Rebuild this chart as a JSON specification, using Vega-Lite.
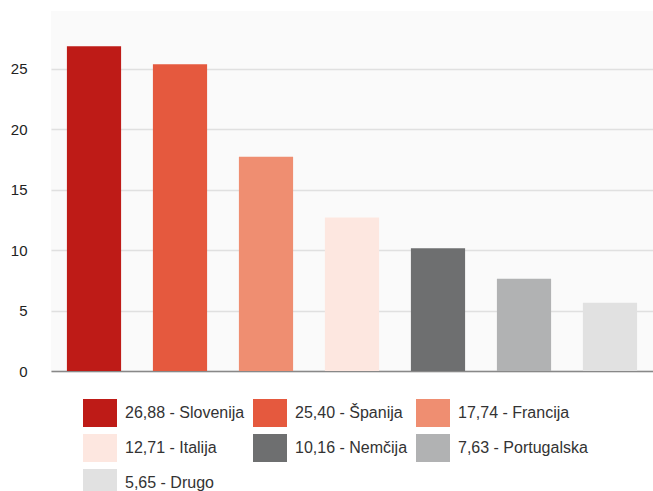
{
  "$schema": "https://vega.github.io/schema/vega-lite/v6.json",
  "autosize": {"type": "none"},
  "width": 602,
  "height": 360,
  "padding": {"left": 51, "top": 11, "right": 0, "bottom": 120},
  "background": "#ffffff",
  "view": {"fill": "#fafafa", "stroke": null},
  "data": {
    "values": [
      {"drzava": "Slovenija", "delez": 26.88, "oznaka": "26,88 - Slovenija"},
      {"drzava": "Španija", "delez": 25.40, "oznaka": "25,40 - Španija"},
      {"drzava": "Francija", "delez": 17.74, "oznaka": "17,74 - Francija"},
      {"drzava": "Italija", "delez": 12.71, "oznaka": "12,71 - Italija"},
      {"drzava": "Nemčija", "delez": 10.16, "oznaka": "10,16 - Nemčija"},
      {"drzava": "Portugalska", "delez": 7.63, "oznaka": "7,63 - Portugalska"},
      {"drzava": "Drugo", "delez": 5.65, "oznaka": "5,65 - Drugo"}
    ]
  },
  "mark": {"type": "bar"},
  "encoding": {
    "x": {
      "field": "oznaka",
      "type": "nominal",
      "sort": null,
      "scale": {"paddingInner": 0.37, "paddingOuter": 0.185},
      "axis": {"labels": false, "ticks": false, "title": null, "domain": true, "domainColor": "#888888", "domainWidth": 1.5}
    },
    "y": {
      "field": "delez",
      "type": "quantitative",
      "scale": {"domain": [0, 29.8], "nice": false},
      "axis": {
        "values": [0, 5, 10, 15, 20, 25],
        "title": null,
        "ticks": false,
        "domain": false,
        "labelPadding": 24,
        "labelFont": "Liberation Sans",
        "labelFontSize": 15,
        "labelColor": "#222222",
        "gridColor": "#e0e0e0",
        "gridWidth": 1.5
      }
    },
    "color": {
      "field": "oznaka",
      "type": "nominal",
      "sort": null,
      "scale": {
        "range": ["#be1b17", "#e5593e", "#ef8e71", "#fde7e0", "#6e6f70", "#b1b2b3", "#e1e1e1"]
      },
      "legend": {
        "orient": "none",
        "legendX": 32,
        "legendY": 385,
        "title": null,
        "columns": 3,
        "direction": "horizontal",
        "symbolType": "M-1,-0.82L1,-0.82L1,0.82L-1,0.82Z",
        "symbolSize": 1156,
        "symbolStrokeWidth": 0,
        "symbolOpacity": 1,
        "labelFont": "Liberation Sans",
        "labelFontSize": 16,
        "labelColor": "#333333",
        "labelOffset": 8,
        "columnPadding": 8,
        "rowPadding": 4,
        "labelLimit": 300
      }
    }
  }
}
